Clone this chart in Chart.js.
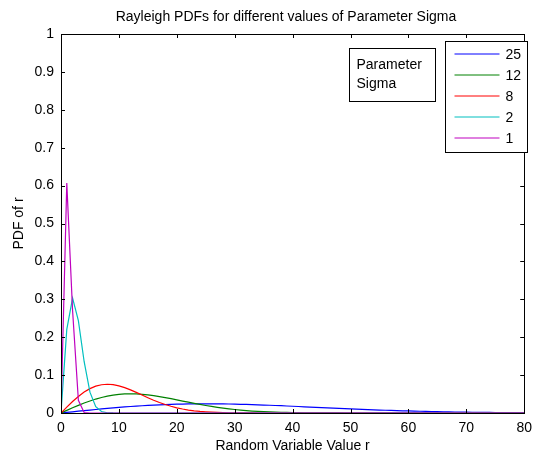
<!DOCTYPE html>
<html>
<head>
<meta charset="utf-8">
<title>Rayleigh PDFs</title>
<script src="https://cdn.jsdelivr.net/npm/chart.js@4/dist/chart.umd.min.js"></script>
<style>
  html,body{ margin:0; padding:0; background:#fff; }
  #wrap{ width:539px; height:453px; position:relative; }
</style>
</head>
<body>
<div id="wrap"><canvas id="rayleighChart" width="539" height="453"></canvas></div>
<script>
// datos (r = 0..80, paso 1)
const rValues = [
  0,1,2,3,4,5,6,7,8,9,
  10,11,12,13,14,15,16,17,18,19,
  20,21,22,23,24,25,26,27,28,29,
  30,31,32,33,34,35,36,37,38,39,
  40,41,42,43,44,45,46,47,48,49,
  50,51,52,53,54,55,56,57,58,59,
  60,61,62,63,64,65,66,67,68,69,
  70,71,72,73,74,75,76,77,78,79,
  80
];
const sigmaLabels = ['25','12','8','2','1'];
const sigmaColors = ['#0000ff','#008000','#ff0000','#00bfbf','#bf00bf'];

const pdfSigma25 = [
  0,0.0016,0.0032,0.0048,0.0063,0.0078,0.0093,0.0108,0.0122,0.0135,
  0.0148,0.0160,0.0171,0.0182,0.0191,0.0200,0.0209,0.0216,0.0222,0.0228,
  0.0232,0.0236,0.0239,0.0241,0.0242,0.0243,0.0242,0.0241,0.0239,0.0237,
  0.0234,0.0230,0.0226,0.0221,0.0216,0.0210,0.0204,0.0198,0.0192,0.0185,
  0.0178,0.0171,0.0164,0.0157,0.0150,0.0142,0.0135,0.0128,0.0122,0.0115,
  0.0108,0.0102,0.0096,0.0090,0.0084,0.0078,0.0073,0.0068,0.0063,0.0058,
  0.0054,0.0050,0.0046,0.0042,0.0039,0.0035,0.0032,0.0030,0.0027,0.0024,
  0.0022,0.0020,0.0018,0.0016,0.0015,0.0013,0.0012,0.0011,0.0010,0.0009,
  0.0008
];
const pdfSigma12 = [
  0,0.0069,0.0137,0.0202,0.0263,0.0318,0.0368,0.0410,0.0445,0.0472,
  0.0491,0.0502,0.0505,0.0502,0.0492,0.0477,0.0457,0.0433,0.0406,0.0377,
  0.0346,0.0315,0.0285,0.0254,0.0226,0.0198,0.0173,0.0149,0.0128,0.0109,
  0.0092,0.0076,0.0063,0.0052,0.0043,0.0035,0.0028,0.0022,0.0018,0.0014,
  0.0011,0.0008,0.0006,0.0005,0.0004,0.0003,0.0002,0.0001,0.0001,0,
  0,0,0,0,0,0,0,0,0,0,
  0,0,0,0,0,0,0,0,0,0,
  0,0,0,0,0,0,0,0,0,0,
  0
];
const pdfSigma8 = [
  0,0.0155,0.0303,0.0437,0.0552,0.0643,0.0708,0.0746,0.0758,0.0747,
  0.0715,0.0668,0.0609,0.0543,0.0473,0.0404,0.0338,0.0278,0.0224,0.0177,
  0.0137,0.0105,0.0078,0.0058,0.0042,0.0030,0.0021,0.0014,0.0010,0.0006,
  0.0004,0.0003,0.0002,0.0001,0,0,0,0,0,0,
  0,0,0,0,0,0,0,0,0,0,
  0,0,0,0,0,0,0,0,0,0,
  0,0,0,0,0,0,0,0,0,0,
  0,0,0,0,0,0,0,0,0,0,
  0
];
const pdfSigma2 = [
  0,0.2206,0.3033,0.2435,0.1353,0.0549,0.0167,0.0038,0.0007,0.0001,
  0,0,0,0,0,0,0,0,0,0,
  0,0,0,0,0,0,0,0,0,0,
  0,0,0,0,0,0,0,0,0,0,
  0,0,0,0,0,0,0,0,0,0,
  0,0,0,0,0,0,0,0,0,0,
  0,0,0,0,0,0,0,0,0,0,
  0,0,0,0,0,0,0,0,0,0,
  0
];
const pdfSigma1 = [
  0,0.6065,0.2707,0.0333,0.0013,0,0,0,0,0,
  0,0,0,0,0,0,0,0,0,0,
  0,0,0,0,0,0,0,0,0,0,
  0,0,0,0,0,0,0,0,0,0,
  0,0,0,0,0,0,0,0,0,0,
  0,0,0,0,0,0,0,0,0,0,
  0,0,0,0,0,0,0,0,0,0,
  0,0,0,0,0,0,0,0,0,0,
  0
];
const xTicks = [0,10,20,30,40,50,60,70,80];
const yTicks = [0,0.1,0.2,0.3,0.4,0.5,0.6,0.7,0.8,0.9,1];
const noteLines = ['Parameter','Sigma'];
const chartTitle = 'Rayleigh PDFs for different values of Parameter Sigma';

(function(){
  'use strict';

  const FONT = '"Liberation Sans", Arial, Helvetica, sans-serif';
  const series = [pdfSigma25, pdfSigma12, pdfSigma8, pdfSigma2, pdfSigma1];

  function toPoints(ys){ return ys.map((y,i)=>({ x: rValues[i], y })); }

  // caja estilo matlab + ticks hacia dentro + leyenda + cuadro de texto + titulo
  const matlabBox = {
    id: 'matlabBox',
    afterDatasetsDraw(chart){
      const { ctx, chartArea: a, scales } = chart;
      ctx.save();
      ctx.strokeStyle = '#000';
      ctx.lineWidth = 1;
      ctx.strokeRect(Math.round(a.left)+0.5, Math.round(a.top)+0.5, Math.round(a.right-a.left), Math.round(a.bottom-a.top));
      const tl = 4;
      ctx.beginPath();
      xTicks.forEach(v=>{
        const px = Math.round(scales.x.getPixelForValue(v))+0.5;
        ctx.moveTo(px, a.bottom); ctx.lineTo(px, a.bottom-tl);
        ctx.moveTo(px, a.top); ctx.lineTo(px, a.top+tl);
      });
      yTicks.forEach(v=>{
        const py = Math.round(scales.y.getPixelForValue(v))+0.5;
        ctx.moveTo(a.left, py); ctx.lineTo(a.left+tl, py);
        ctx.moveTo(a.right, py); ctx.lineTo(a.right-tl, py);
      });
      ctx.stroke();

      ctx.fillStyle = '#000';
      ctx.font = '14px ' + FONT;
      ctx.textBaseline = 'middle';
      ctx.textAlign = 'center';
      ctx.fillText(chartTitle, 286, 17);

      // cuadro "Parameter Sigma"
      const nx = 349.5, ny = 48.5, nw = 86, nh = 53;
      ctx.fillStyle = '#fff';
      ctx.fillRect(nx, ny, nw, nh);
      ctx.strokeRect(nx, ny, nw, nh);
      ctx.fillStyle = '#000';
      ctx.textAlign = 'left';
      noteLines.forEach((t,i)=> ctx.fillText(t, nx+7, ny+17+i*19));

      // leyenda
      const lx = 445.5, ly = 41.5, lw = 82, lh = 111;
      ctx.fillStyle = '#fff';
      ctx.fillRect(lx, ly, lw, lh);
      ctx.strokeRect(lx, ly, lw, lh);
      sigmaLabels.forEach((lab,i)=>{
        const y = Math.round(ly + 12 + i*21.2);
        ctx.strokeStyle = sigmaColors[i];
        ctx.beginPath(); ctx.moveTo(lx+9, y); ctx.lineTo(lx+54, y); ctx.stroke();
        ctx.fillStyle = '#000';
        ctx.fillText(lab, lx+60, y+1);
      });
      ctx.restore();
    }
  };

  const ctx = document.getElementById('rayleighChart');
  new Chart(ctx, {
    type: 'line',
    data: {
      datasets: series.map((ys,i)=>({
        label: sigmaLabels[i],
        data: toPoints(ys),
        borderColor: sigmaColors[i],
        backgroundColor: sigmaColors[i],
        borderWidth: 1.2,
        pointRadius: 0,
        tension: 0,
        fill: false,
        order: series.length - i
      }))
    },
    options: {
      responsive: false,
      animation: false,
      events: [],
      layout: { padding: { left: 0, right: 6, top: 34, bottom: 0 } },
      plugins: {
        legend: { display: false },
        tooltip: { enabled: false },
        title: { display: false }
      },
      scales: {
        x: {
          type: 'linear', min: 0, max: 80,
          afterBuildTicks(s){ s.ticks = xTicks.map(v=>({ value: v })); },
          afterFit(s){ s.height = 40; },
          grid: { display: false, drawTicks: false },
          border: { display: false },
          ticks: { color: '#000', padding: 7, maxRotation: 0, font: { family: FONT, size: 14 }, callback: v => String(v) },
          title: { display: true, text: 'Random Variable Value r', color: '#000', padding: { top: 0, bottom: 0 }, font: { family: FONT, size: 14, lineHeight: 1 } }
        },
        y: {
          type: 'linear', min: 0, max: 1,
          afterBuildTicks(s){ s.ticks = yTicks.map(v=>({ value: v })); },
          afterFit(s){ s.width = 61; },
          grid: { display: false, drawTicks: false },
          border: { display: false },
          ticks: { color: '#000', padding: 7, font: { family: FONT, size: 14 }, callback: v => String(v) },
          title: { display: true, text: 'PDF of r', color: '#000', padding: { top: 12, bottom: 0 }, font: { family: FONT, size: 14, lineHeight: 1 } }
        }
      }
    },
    plugins: [matlabBox]
  });
})();
</script>
</body>
</html>
